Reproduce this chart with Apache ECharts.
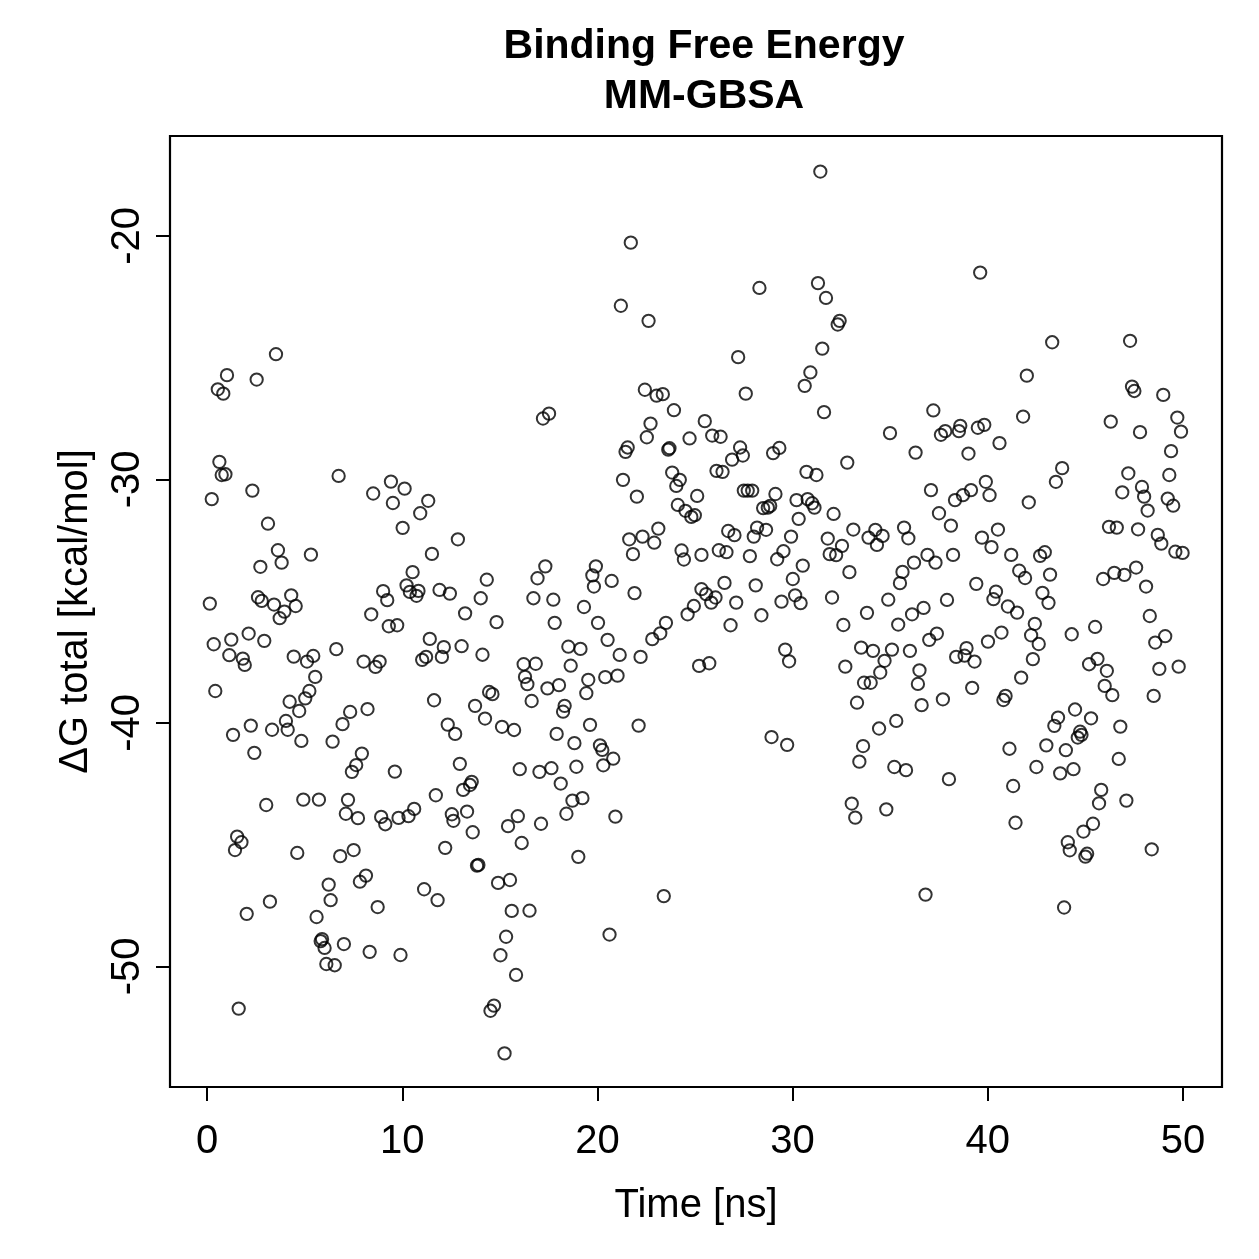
<!DOCTYPE html>
<html><head><meta charset="utf-8">
<script src="https://cdn.jsdelivr.net/npm/echarts@6/dist/echarts.min.js"></script>
<style>html,body{margin:0;padding:0;background:#fff}#c{width:1259px;height:1259px}</style>
</head><body><div id="c"></div>
<script>
// Time (ns) of each frame
const time = [
3.53,1.02,2.54,0.55,0.83,21.71,21.20,22.62,22.43,23.03,
23.35,23.92,17.52,17.21,22.72,22.53,24.72,21.55,21.44,23.69,
23.63,31.42,28.30,31.30,31.71,32.41,32.31,27.21,31.52,30.91,
30.62,27.60,31.61,37.21,25.50,25.88,26.31,34.99,37.60,37.82,
27.31,27.45,26.90,29.00,29.32,36.30,39.61,43.30,47.29,42.00,
47.39,47.51,48.99,41.81,46.30,49.71,47.80,49.90,49.39,38.59,
38.52,39.49,39.82,40.60,39.01,0.63,0.75,0.94,0.24,2.32,
3.12,3.63,3.82,2.73,5.32,6.74,8.51,9.42,10.12,9.52,
11.33,10.92,10.02,11.52,10.53,10.22,10.39,10.83,10.73,11.91,
9.02,9.23,8.41,9.31,9.74,0.14,2.61,2.80,3.43,4.31,
4.54,3.96,3.72,0.34,1.24,2.13,2.93,1.14,1.83,1.93,
4.44,5.12,5.44,5.54,6.62,8.02,8.84,8.63,11.41,12.13,
12.03,11.22,11.02,0.42,5.24,5.03,4.23,4.72,11.63,7.33,
8.22,6.94,2.24,1.33,3.33,4.04,4.13,4.83,6.43,2.42,
7.93,7.64,23.83,24.22,24.04,21.31,22.02,24.12,24.51,24.81,
24.99,23.12,21.63,22.31,22.91,21.82,24.31,24.43,12.85,17.33,
16.93,14.33,19.92,19.74,19.82,20.73,21.90,12.44,14.02,16.72,
17.74,19.31,13.22,14.83,17.81,20.03,24.94,24.62,23.51,23.22,
22.81,20.52,21.14,22.21,13.04,14.11,16.22,16.84,18.51,19.13,
18.63,16.29,16.41,17.44,18.03,19.53,19.43,20.40,21.03,14.45,
14.62,16.63,13.73,14.24,15.11,15.73,18.32,18.24,19.62,22.11,
12.33,12.71,17.91,18.82,20.13,20.25,20.81,12.95,20.30,16.02,
17.64,18.92,32.80,26.10,26.41,30.71,31.22,25.11,27.50,27.70,
27.93,29.12,30.20,30.77,31.00,31.12,28.49,28.73,28.85,32.10,
37.09,37.50,30.31,26.70,27.02,28.18,28.64,28.01,29.92,31.80,
32.53,33.11,33.89,34.24,34.61,34.32,35.71,35.93,25.33,26.22,
26.61,27.81,29.21,29.53,30.52,31.90,32.23,32.91,35.63,36.22,
36.91,37.32,35.50,30.01,26.51,28.11,25.33,25.57,25.83,26.05,
27.11,29.43,30.13,30.41,32.02,34.90,36.12,36.71,26.82,28.40,
32.60,33.81,35.41,33.51,34.12,35.09,34.71,34.49,36.01,37.00,
37.39,36.50,36.42,33.66,34.00,32.70,29.62,29.82,25.21,25.73,
33.30,36.61,37.70,35.31,34.43,28.92,29.72,33.61,33.42,35.21,
35.81,43.81,43.49,47.20,49.30,39.90,39.14,38.73,38.32,40.09,
42.10,46.89,47.90,48.01,48.19,49.22,49.50,38.11,39.70,40.52,
40.19,38.22,41.20,42.68,42.92,41.61,41.91,43.19,46.21,46.61,
47.70,48.71,48.89,49.61,49.98,45.91,46.48,47.00,47.60,48.11,
39.41,37.91,40.42,40.29,41.03,41.50,42.80,43.11,48.30,42.41,
42.22,42.61,44.30,45.50,40.70,40.01,38.91,38.81,38.38,39.32,
42.31,48.58,49.09,45.19,45.62,46.10,48.79,49.78,41.71,39.20,
45.99,46.38,48.50,40.91,40.80,44.47,43.60,43.41,45.29,46.79,
44.73,44.80,44.61,43.00,44.00,41.11,46.71,42.49,44.39,7.42,
9.62,3.03,4.93,5.73,7.22,7.11,7.73,8.92,9.13,9.81,
10.32,10.61,11.72,1.54,1.76,1.43,4.62,6.82,7.51,12.20,
6.23,8.14,7.83,11.12,11.81,6.33,8.74,3.22,2.03,5.61,
5.89,5.82,6.02,7.01,8.33,9.91,6.11,6.54,1.62,12.54,
12.62,17.03,13.12,13.47,13.56,13.32,13.61,18.12,18.72,19.23,
18.41,20.92,15.92,15.42,17.11,16.12,19.02,13.83,13.90,14.91,
15.52,23.40,15.61,16.52,20.62,15.32,15.03,15.83,14.70,14.52,
15.24,33.03,33.21,34.80,36.81,38.01,43.71,41.30,41.42,45.81,
45.70,47.10,45.39,44.90,44.10,44.20,45.09,45.00,48.40,43.91
];
// ΔG total (kcal/mol) of each frame, same order as time
const dG = [
-24.86,-25.72,-25.90,-26.30,-26.48,-20.28,-22.87,-23.49,-26.32,-26.56,
-26.50,-27.16,-27.30,-27.50,-27.71,-28.27,-28.32,-28.69,-28.87,-28.72,
-28.78,-17.36,-22.14,-21.94,-22.55,-23.49,-23.64,-24.98,-24.63,-25.61,
-26.16,-26.48,-27.24,-27.17,-27.61,-28.20,-28.25,-28.10,-28.17,-28.02,
-28.69,-29.02,-29.19,-28.92,-28.71,-28.90,-21.51,-24.37,-24.31,-25.74,
-26.19,-26.37,-26.53,-27.42,-27.63,-27.46,-28.06,-28.04,-28.84,-27.80,
-28.02,-27.88,-27.76,-28.51,-28.94,-29.28,-29.82,-29.79,-30.81,-30.46,
-31.82,-32.91,-33.42,-33.59,-33.09,-29.86,-30.58,-30.09,-30.38,-30.97,
-30.88,-31.39,-31.99,-33.06,-33.81,-34.35,-34.62,-34.58,-34.78,-34.54,
-34.59,-34.96,-35.54,-36.03,-35.99,-35.10,-34.84,-34.99,-35.14,-34.76,
-35.20,-35.43,-35.70,-36.77,-36.58,-36.33,-36.63,-37.22,-37.36,-37.62,
-37.28,-37.48,-37.25,-38.11,-36.97,-37.48,-37.48,-37.70,-36.55,-36.89,
-37.29,-37.29,-37.41,-38.69,-38.69,-38.99,-39.13,-39.51,-39.07,-39.55,
-39.43,-40.05,-40.11,-40.49,-40.28,-39.92,-40.28,-40.74,-40.77,-41.23,
-41.26,-41.73,-29.72,-30.02,-30.27,-30.02,-30.71,-31.05,-31.29,-31.54,
-31.47,-32.02,-32.46,-32.35,-32.60,-33.07,-32.92,-33.29,-32.46,-33.57,
-34.06,-34.12,-33.57,-33.94,-34.40,-34.17,-34.67,-34.69,-34.88,-34.88,
-34.94,-35.24,-35.50,-35.86,-35.89,-35.89,-35.20,-35.54,-35.89,-36.32,
-36.56,-36.59,-37.21,-37.29,-36.85,-37.20,-37.59,-37.57,-36.87,-36.96,
-37.65,-38.11,-38.41,-38.58,-38.45,-38.23,-38.78,-38.12,-38.06,-38.73,
-38.82,-39.10,-39.30,-39.82,-40.16,-40.29,-39.30,-39.54,-40.08,-40.11,
-40.07,-40.45,-40.45,-40.83,-40.92,-41.11,-41.47,-41.68,-41.74,-41.90,
-41.86,-41.80,-29.31,-29.65,-29.69,-29.69,-29.82,-30.68,-30.46,-30.46,
-30.46,-30.60,-30.85,-30.81,-30.98,-31.16,-31.18,-31.16,-31.09,-31.42,
-30.44,-31.39,-31.62,-32.12,-32.29,-31.98,-32.07,-32.35,-32.35,-32.43,
-32.73,-32.06,-32.39,-32.07,-32.32,-32.69,-31.98,-32.42,-33.10,-32.91,
-32.99,-33.15,-33.28,-32.95,-33.54,-33.07,-33.11,-33.81,-33.80,-33.42,
-33.10,-33.42,-34.26,-34.09,-34.25,-34.35,-34.51,-34.71,-35.06,-34.85,
-35.06,-35.02,-34.76,-35.08,-34.85,-34.94,-35.54,-35.28,-35.99,-35.58,
-35.98,-35.48,-35.96,-36.91,-37.04,-36.99,-37.45,-37.93,-37.04,-36.59,
-36.33,-37.84,-38.40,-38.35,-38.35,-37.69,-36.99,-37.47,-37.66,-37.55,
-39.17,-39.27,-39.03,-39.92,-40.23,-40.58,-40.90,-40.95,-41.59,-41.81,
-41.94,-29.54,-30.10,-29.75,-29.82,-30.10,-30.44,-30.65,-30.85,-30.65,
-30.94,-30.53,-30.31,-30.71,-31.28,-30.79,-31.08,-31.90,-32.39,-32.06,
-32.78,-33.10,-33.10,-33.14,-32.99,-33.75,-34.05,-33.91,-31.95,-31.98,
-32.05,-32.28,-32.64,-32.97,-33.02,-34.09,-33.84,-33.92,-33.62,-34.40,
-34.29,-34.95,-34.61,-34.92,-35.22,-35.47,-34.66,-35.07,-35.61,-35.93,
-36.40,-36.76,-36.36,-36.06,-36.29,-36.66,-36.93,-37.24,-37.29,-37.48,
-37.38,-36.70,-36.44,-37.59,-37.37,-37.86,-37.78,-37.69,-38.14,-38.56,
-38.48,-38.86,-38.89,-38.89,-39.06,-39.45,-39.78,-40.12,-39.81,-40.15,
-40.36,-40.49,-40.60,-40.92,-41.12,-41.06,-41.48,-41.81,-41.90,-42.01,
-42.00,-43.37,-43.15,-43.15,-43.16,-43.73,-43.91,-43.86,-44.16,-43.90,
-43.83,-43.53,-42.97,-44.67,-44.90,-45.22,-45.34,-45.47,-45.22,-45.13,
-46.64,-46.27,-46.52,-46.83,-47.28,-47.28,-47.56,-47.34,-47.84,-47.97,
-48.88,-48.96,-49.24,-49.08,-49.40,-49.53,-49.90,-49.95,-51.73,-43.75,
-44.02,-42.01,-42.75,-42.55,-42.42,-43.64,-44.49,-42.49,-43.19,-43.09,
-43.73,-43.85,-43.83,-44.24,-44.14,-44.93,-45.50,-45.86,-45.83,-46.57,
-46.45,-47.11,-47.72,-47.71,-48.69,-48.78,-49.54,-50.35,-51.61,-51.82,
-53.57,-43.31,-43.89,-43.55,-47.05,-42.31,-42.07,-42.59,-44.10,-42.75,
-43.30,-43.19,-44.14,-44.46,-44.90,-45.23,-45.37,-45.49,-45.19,-47.58
];
const xTicks = [0, 10, 20, 30, 40, 50];
const yTicks = [-50, -40, -30, -20];
const titleText = 'Binding Free Energy\nMM-GBSA';
const xName = 'Time [ns]';
const yName = 'ΔG total [kcal/mol]';

const points = time.map((t, i) => [t, dG[i]]);
const FONT = '"Liberation Sans", Arial, Helvetica, sans-serif';

const chart = echarts.init(document.getElementById('c'), null, {renderer: 'canvas'});
chart.setOption({
  animation: false,
  backgroundColor: '#ffffff',
  textStyle: {fontFamily: FONT, color: '#000'},
  title: {
    text: titleText, left: 699, top: 17, textAlign: 'center',
    textStyle: {fontSize: 41, fontWeight: 'bold', lineHeight: 50, color: '#000', fontFamily: FONT}
  },
  grid: {left: 170, top: 136, width: 1052, height: 951, show: true,
         borderColor: '#000', borderWidth: 2.2, backgroundColor: 'transparent'},
  xAxis: {
    type: 'value', min: -1.9, max: 52.0,
    name: xName, nameLocation: 'middle', nameGap: 99,
    nameTextStyle: {fontSize: 40, color: '#000', fontFamily: FONT},
    axisLine: {show: false, onZero: false}, splitLine: {show: false},
    axisTick: {show: true, length: 14, lineStyle: {color: '#000', width: 2}, customValues: xTicks},
    axisLabel: {fontSize: 40, color: '#000', margin: 35, fontFamily: FONT, customValues: xTicks}
  },
  yAxis: {
    type: 'value', min: -54.95, max: -15.9,
    name: yName, nameLocation: 'middle', nameGap: 74,
    nameTextStyle: {fontSize: 40, color: '#000', fontFamily: FONT},
    axisLine: {show: false, onZero: false}, splitLine: {show: false},
    axisTick: {show: true, length: 14, lineStyle: {color: '#000', width: 2}, customValues: yTicks},
    axisLabel: {fontSize: 40, color: '#000', margin: 22, rotate: 90, fontFamily: FONT, customValues: yTicks}
  },
  series: [{
    type: 'scatter', data: points, symbol: 'circle', symbolSize: 12.3, silent: true,
    itemStyle: {color: 'rgba(0,0,0,0)', borderColor: '#000', borderWidth: 2}
  }]
});
</script>
</body></html>
